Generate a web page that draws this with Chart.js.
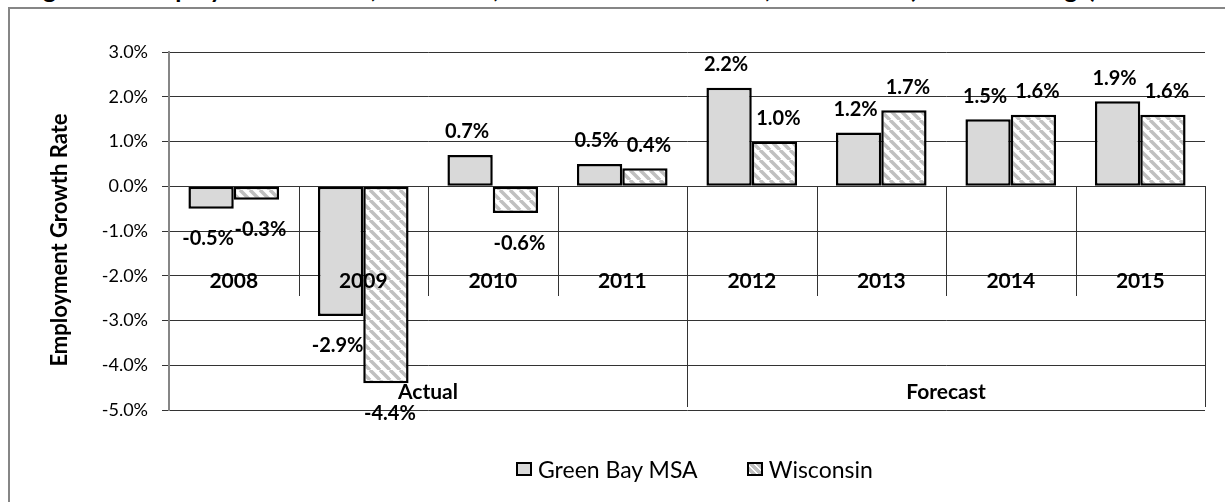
<!DOCTYPE html>
<html>
<head>
<meta charset="utf-8">
<script src="https://cdn.jsdelivr.net/npm/chart.js@4.4.0/dist/chart.umd.min.js"></script>
<style>
  body { margin: 0; width: 1225px; height: 502px; overflow: hidden; background: #fff; position: relative; font-family: Lato, sans-serif; }
  #title { position: absolute; top: -24px; right: 128px; font-weight: bold; font-size: 25px; line-height: 25px; white-space: nowrap; color: #000; }
  #frame { position: absolute; left: 8px; top: 7px; width: 1400px; height: 700px; border: 2px solid #868686; }
  #chart { position: absolute; left: 0; top: 0; }
  #legend { position: absolute; left: 516px; top: 455px; display: flex; align-items: center; font-size: 23px; line-height: 28px; color: #000; }
  .item { display: flex; align-items: center; margin-right: 49px; }
  .sw { width: 16px; height: 14px; box-sizing: border-box; border: 2px solid #000; margin-right: 6px; }
</style>
</head>
<body>
<div id="title">Figure 10: Employment Growth, Recession, and Forecasted Growth, 2008-2015 (Percent Change)</div>
<div id="frame"></div>
<canvas id="chart" width="1225" height="502"></canvas>
<div id="legend"></div>
<script>
const years = ['2008', '2009', '2010', '2011', '2012', '2013', '2014', '2015'];
const greenBay = [-0.5, -2.9, 0.7, 0.5, 2.2, 1.2, 1.5, 1.9];
const wisconsin = [-0.3, -4.4, -0.6, 0.4, 1.0, 1.7, 1.6, 1.6];
const seriesNames = ['Green Bay MSA', 'Wisconsin'];
const periods = ['Actual', 'Forecast'];
const periodLength = [4, 4];
const yMin = -5, yMax = 3, yStep = 1;
const yTitle = 'Employment Growth Rate';

const ctx = document.getElementById('chart').getContext('2d');

function stripes() {
    const c = document.createElement('canvas');
    c.width = 10; c.height = 10;
    const g = c.getContext('2d');
    g.fillStyle = '#fff';
    g.fillRect(0, 0, 10, 10);
    g.strokeStyle = '#c0c0c0';
    g.lineWidth = 3.5;
    for (const o of [-10, 0, 10]) {
        g.beginPath(); g.moveTo(o, 0); g.lineTo(o + 10, 10); g.stroke();
    }
    return ctx.createPattern(c, 'repeat');
}

// legend (html)
const legend = document.getElementById('legend');
seriesNames.forEach((name, i) => {
    const item = document.createElement('div');
    item.className = 'item';
    const sw = document.createElement('span');
    sw.className = 'sw';
    sw.style.background = i === 0 ? '#d9d9d9' : 'repeating-linear-gradient(45deg, #fff 0 2px, #c0c0c0 2px 5px)';
    const t = document.createElement('span');
    t.textContent = name;
    item.appendChild(sw); item.appendChild(t);
    legend.appendChild(item);
});

const valueLabels = {
    id: 'valueLabels',
    afterDatasetsDraw(chart) {
        const c = chart.ctx;
        c.save();
        c.font = 'bold 20px Lato';
        c.fillStyle = '#000';
        c.textAlign = 'center';
        c.textBaseline = 'middle';
        chart.data.datasets.forEach((ds, d) => {
            chart.getDatasetMeta(d).data.forEach((bar, i) => {
                const v = ds.data[i];
                // first series a bit left, second a bit right, like the original
                const dx = d === 0 ? -3 : 4;
                c.fillText(v.toFixed(1) + '%', bar.x + dx, v >= 0 ? bar.y - 23 : bar.y + 30);
            });
        });
        c.restore();
    }
};

const periodAxis = {
    id: 'periodAxis',
    afterDatasetsDraw(chart) {
        const c = chart.ctx;
        const area = chart.chartArea;
        const x = chart.scales.x, y = chart.scales.y;
        const y0 = Math.round(y.getPixelForValue(0));
        const half = (x.getPixelForValue(1) - x.getPixelForValue(0)) / 2;
        c.save();
        c.strokeStyle = '#333';
        c.lineWidth = 1;
        const vline = (px, a, b) => {
            const xx = Math.round(px) + 0.5;
            c.beginPath(); c.moveTo(xx, a); c.lineTo(xx, b); c.stroke();
        };
        for (let i = 1; i <= years.length; i++) {
            vline(x.getPixelForValue(i - 1) + half, y0, y0 + 110);
        }
        c.font = 'bold 21px Lato';
        c.fillStyle = '#000';
        c.textAlign = 'center';
        c.textBaseline = 'middle';
        let start = 0;
        periods.forEach((p, k) => {
            const end = start + periodLength[k];
            const left = x.getPixelForValue(start) - half;
            const right = x.getPixelForValue(end - 1) + half;
            vline(right, y0, area.bottom - 3);
            c.fillText(p, (left + right) / 2, area.bottom - 18);
            start = end;
        });
        years.forEach((yr, i) => c.fillText(yr, x.getPixelForValue(i), y0 + 95));

        // y axis title
        c.translate(60, (area.top + area.bottom) / 2 + 9);
        c.rotate(-Math.PI / 2);
        c.font = 'bold 22px Lato';
        c.fillText(yTitle, 0, 0);
        c.restore();
    }
};

const chart = new Chart(ctx, {
    type: 'bar',
    data: {
        labels: years,
        datasets: [{
            label: seriesNames[0],
            data: greenBay,
            backgroundColor: '#d9d9d9',
            borderColor: '#000',
            borderWidth: 2.5,
            borderSkipped: false,
            categoryPercentage: 0.7,
            barPercentage: 1.0
        }, {
            label: seriesNames[1],
            data: wisconsin,
            backgroundColor: stripes(),
            borderColor: '#000',
            borderWidth: 2.5,
            borderSkipped: false,
            categoryPercentage: 0.7,
            barPercentage: 1.0
        }]
    },
    options: {
        responsive: false,
        animation: false,
        layout: { padding: { left: 10, right: 20, top: 52, bottom: 92 } },
        plugins: {
            legend: { display: false },
            tooltip: { enabled: false }
        },
        scales: {
            x: { display: false },
            y: {
                min: yMin,
                max: yMax,
                afterFit: s => { s.width = 159; },
                ticks: {
                    stepSize: yStep,
                    padding: 14,
                    color: '#000',
                    font: { family: 'Lato', size: 18 },
                    callback: v => v.toFixed(1) + '%'
                },
                grid: { color: '#333', lineWidth: 1, tickLength: 7 },
                border: { color: '#868686', width: 2 }
            }
        }
    },
    plugins: [valueLabels, periodAxis]
});
</script>
</body>
</html>
